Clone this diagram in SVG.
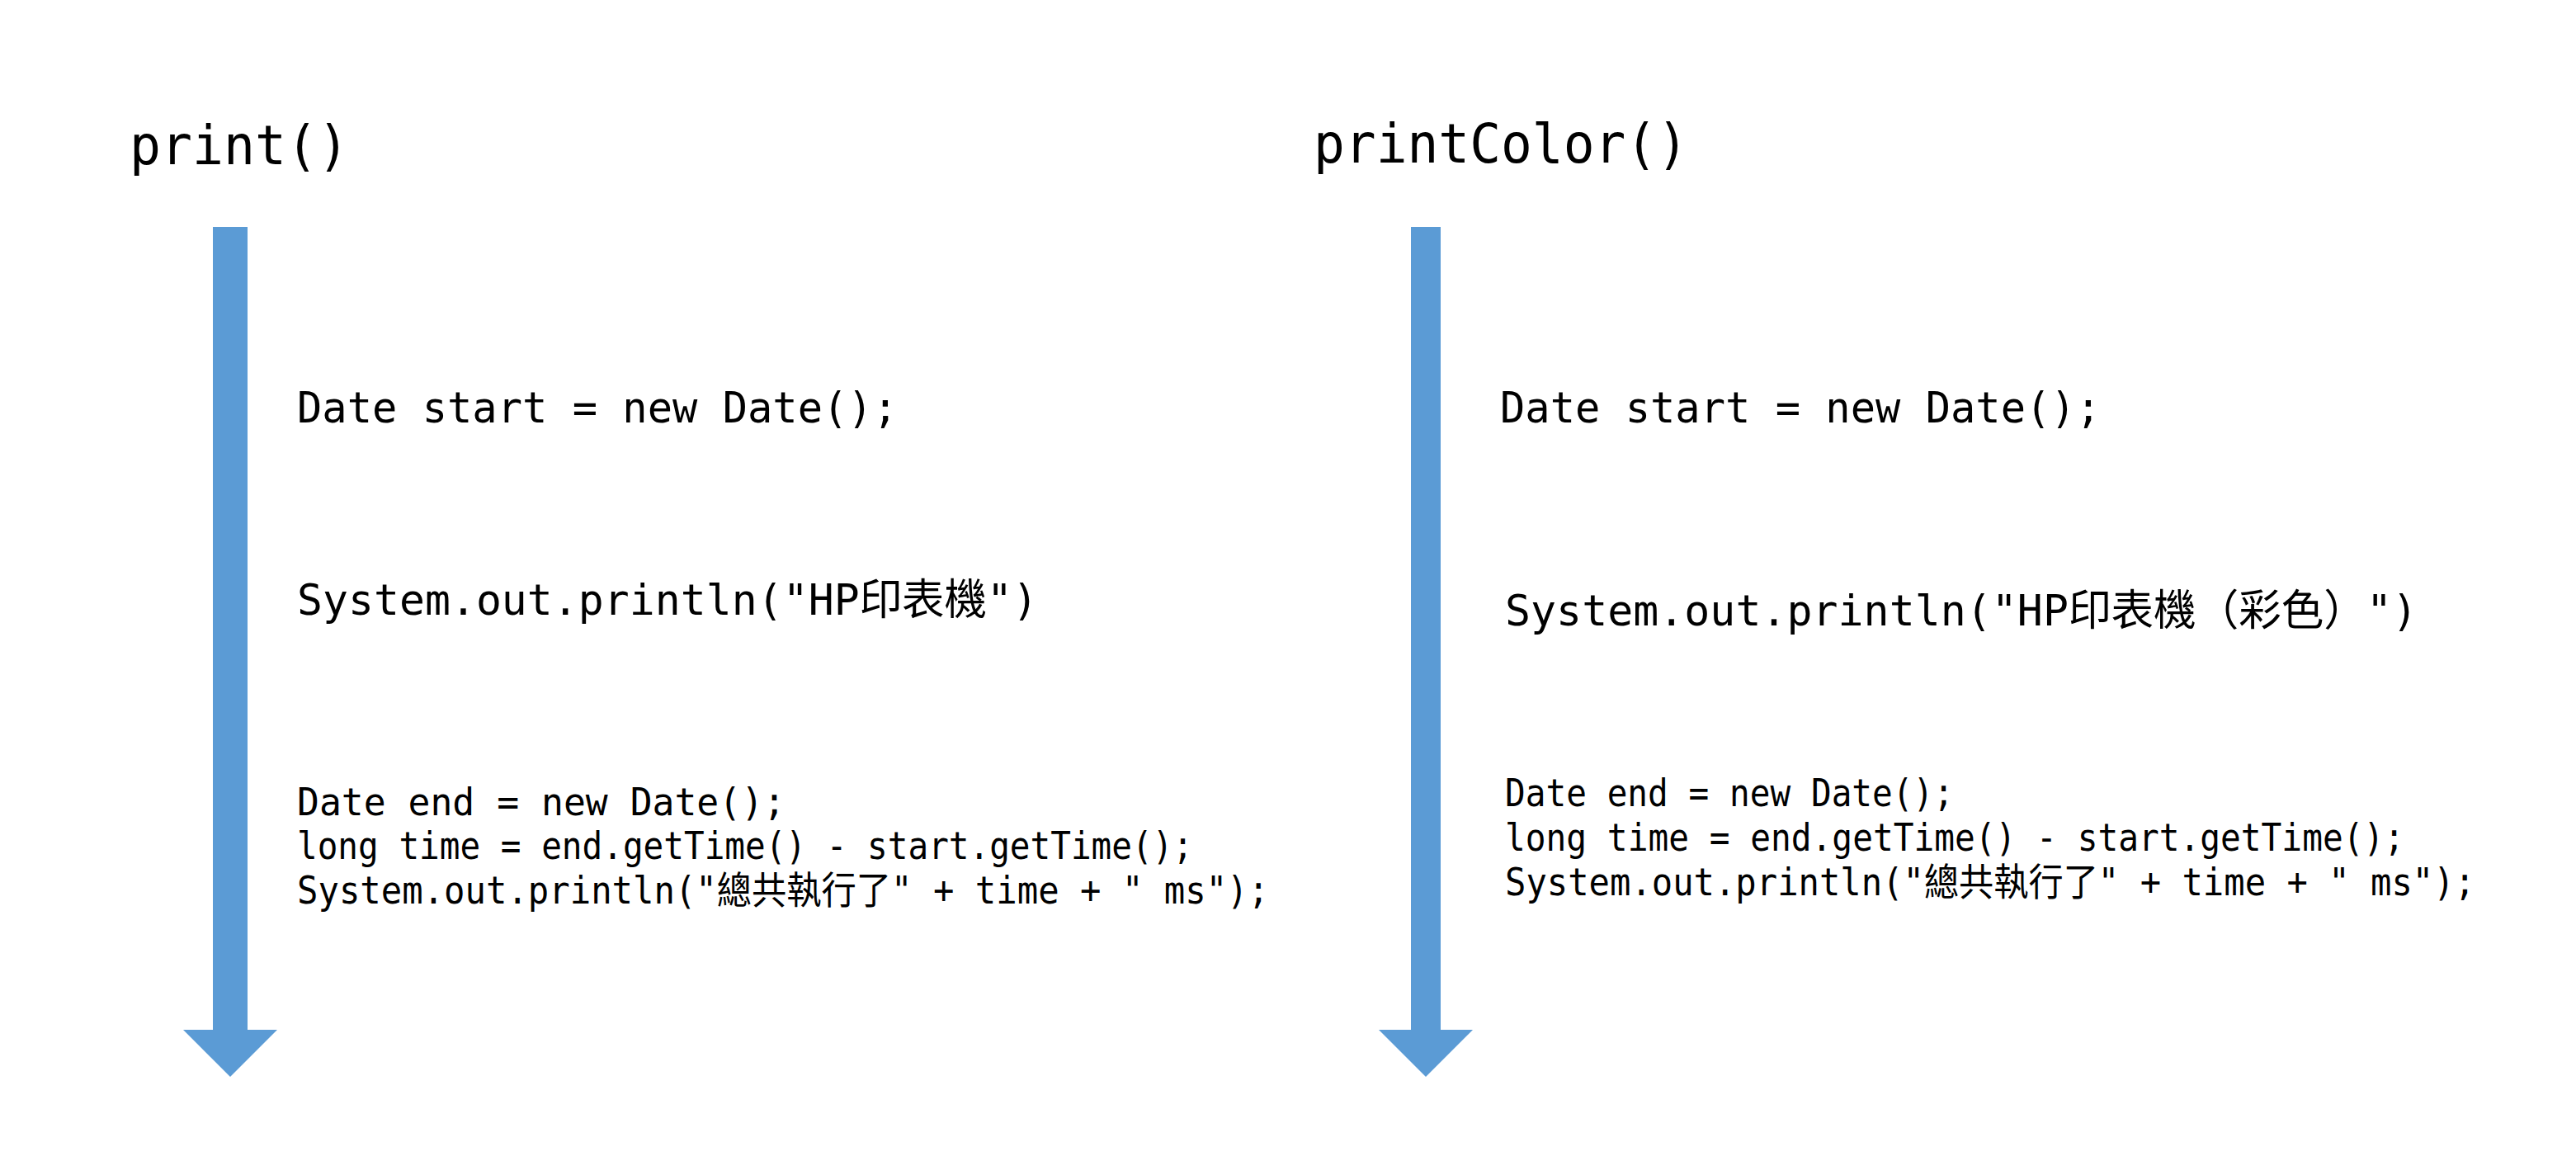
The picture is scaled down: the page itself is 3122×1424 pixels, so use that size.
<svg xmlns="http://www.w3.org/2000/svg" width="3122" height="1424" viewBox="0 0 3122 1424">
  <style>
    .title { font-family: "DejaVu Sans Mono", "Liberation Mono", monospace; font-size: 66px; fill: #000; }
    .code { font-family: "DejaVu Sans Mono", "Noto Sans CJK TC", monospace; font-size: 52px; fill: #000; }
    .small { font-family: "DejaVu Sans Mono", "Noto Sans CJK TC", monospace; font-size: 46px; fill: #000; }
    .flow { fill: #5B9BD5; }
  </style>
  <rect width="3122" height="1424" fill="#ffffff"/>
  <g id="connectors">
    <polygon id="arrow-left" class="flow" points="258,275 300,275 300,1248 336,1248 279,1305 222,1248 258,1248"/>
    <polygon id="arrow-right" class="flow" points="1710,275 1746,275 1746,1248 1785,1248 1728,1305 1671,1248 1710,1248"/>
  </g>
  <g id="title-print">
    <text class="title" x="157" y="199" textLength="266" lengthAdjust="spacingAndGlyphs">print()</text>
  </g>
  <g id="title-printColor">
    <text class="title" x="1592" y="197" textLength="454" lengthAdjust="spacingAndGlyphs">printColor()</text>
  </g>
  <g id="left-start">
    <text class="code" x="360" y="512" textLength="728" lengthAdjust="spacingAndGlyphs">Date start = new Date();</text>
  </g>
  <g id="left-println">
    <text class="code" x="360" y="745" textLength="898" lengthAdjust="spacingAndGlyphs">System.out.println("HP印表機")</text>
  </g>
  <g id="left-end">
    <text class="small" x="360" y="988" textLength="592" lengthAdjust="spacingAndGlyphs">Date end = new Date();</text>
    <text class="small" x="360" y="1041" textLength="1086" lengthAdjust="spacingAndGlyphs">long time = end.getTime() - start.getTime();</text>
    <text class="small" x="360" y="1095" textLength="1178" lengthAdjust="spacingAndGlyphs">System.out.println("總共執行了" + time + " ms");</text>
  </g>
  <g id="right-start">
    <text class="code" x="1818" y="512" textLength="728" lengthAdjust="spacingAndGlyphs">Date start = new Date();</text>
  </g>
  <g id="right-println">
    <text class="code" x="1824" y="758" textLength="1106" lengthAdjust="spacingAndGlyphs">System.out.println("HP印表機（彩色）")</text>
  </g>
  <g id="right-end">
    <text class="small" x="1824" y="977" textLength="544" lengthAdjust="spacingAndGlyphs">Date end = new Date();</text>
    <text class="small" x="1824" y="1031" textLength="1090" lengthAdjust="spacingAndGlyphs">long time = end.getTime() - start.getTime();</text>
    <text class="small" x="1824" y="1085" textLength="1176" lengthAdjust="spacingAndGlyphs">System.out.println("總共執行了" + time + " ms");</text>
  </g>
</svg>
